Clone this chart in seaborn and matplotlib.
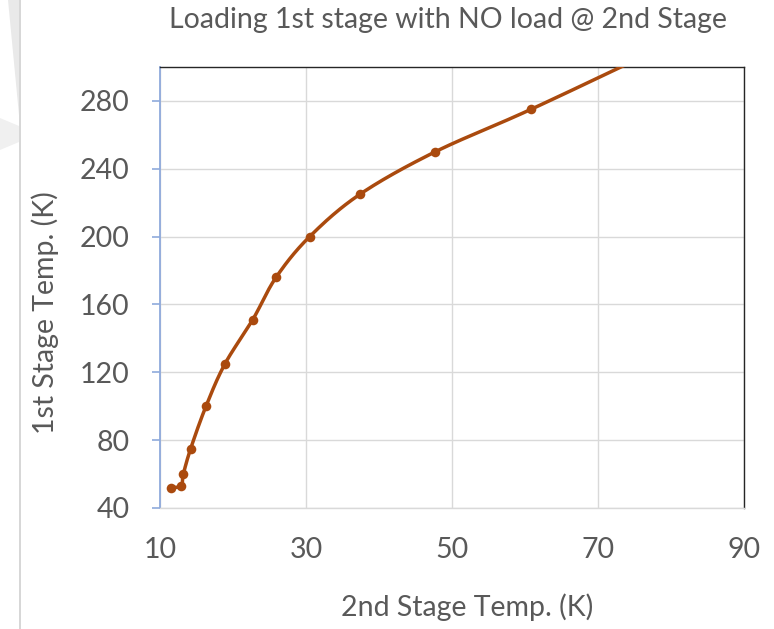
import numpy as np
import pandas as pd
import matplotlib
matplotlib.use("Agg")
import matplotlib.pyplot as plt
from matplotlib.lines import Line2D
from matplotlib.patches import Polygon
import seaborn as sns

# ---- data ----
stage2_temp = [11.5, 12.9, 13.2, 14.2, 16.3, 18.9, 22.7, 25.9, 30.5, 37.4, 47.7, 60.8, 80.0]
stage1_temp = [52, 53, 60, 75, 100, 125, 151, 176, 200, 225, 250, 275, 314]
x_ticks = [10, 30, 50, 70, 90]
y_ticks = [40, 80, 120, 160, 200, 240, 280]

title = "Loading 1st stage with NO load @ 2nd Stage"
xlabel = "2nd Stage Temp. (K)"
ylabel = "1st Stage Temp. (K)"

sns.set_theme(style="white")
plt.rcParams['font.family'] = ['Lato', 'DejaVu Sans']

line_color = "#AA4A0E"
text_color = "#595959"
fs = 20.5

df = pd.DataFrame({"x": stage2_temp, "y": stage1_temp})

# Catmull-Rom smoothing (Excel-like smoothed line) in normalized space
def smooth(xs, ys, xr, yr, n=30):
    px = (np.asarray(xs, float) - xr[0]) / (xr[1] - xr[0])
    py = (np.asarray(ys, float) - yr[0]) / (yr[1] - yr[0]) * 0.7
    P = np.column_stack([px, py])
    P = np.vstack([P[0] - (P[1] - P[0]), P, P[-1] + (P[-1] - P[-2])])
    out = []
    for i in range(1, len(P) - 2):
        p0, p1, p2, p3 = P[i - 1], P[i], P[i + 1], P[i + 2]
        t = np.linspace(0, 1, n)[:, None]
        seg = 0.5 * ((2 * p1) + (-p0 + p2) * t + (2 * p0 - 5 * p1 + 4 * p2 - p3) * t ** 2
                     + (-p0 + 3 * p1 - 3 * p2 + p3) * t ** 3)
        out.append(seg if i == len(P) - 3 else seg[:-1])
    out = np.vstack(out)
    sx = out[:, 0] * (xr[1] - xr[0]) + xr[0]
    sy = out[:, 1] / 0.7 * (yr[1] - yr[0]) + yr[0]
    return sx, sy

xr, yr = (10, 90), (40, 300)
sx, sy = smooth(stage2_temp, stage1_temp, xr, yr)
sdf = pd.DataFrame({"x": sx, "y": sy})

W, H = 774, 629
fig = plt.figure(figsize=(W / 100, H / 100), dpi=100)

def fp(px, py):
    return [px / W, 1 - py / H]

# faint slide background decorations
fig.add_artist(Polygon([fp(8, 0), fp(19, 0), fp(19, 115)], closed=True,
                       facecolor="#E9E9E9", edgecolor="none", zorder=-5))
fig.add_artist(Polygon([fp(0, 118), fp(19, 126), fp(19, 142), fp(0, 150)], closed=True,
                       facecolor="#F0F0F0", edgecolor="none", zorder=-5))
fig.add_artist(Line2D([20 / W, 20 / W], [0, 1], color="#D0D0D0", lw=1.2))

ax = fig.add_axes([160 / W, 1 - 508 / H, 584 / W, 441 / H])
sns.lineplot(data=sdf, x="x", y="y", sort=False, color=line_color, lw=2.5,
             ax=ax, estimator=None, zorder=3)
sns.scatterplot(data=df, x="x", y="y", color=line_color, s=48, edgecolor=line_color,
                linewidth=0, ax=ax, zorder=4)

ax.set_xlim(*xr)
ax.set_ylim(*yr)
ax.set_xticks(x_ticks)
ax.set_yticks(y_ticks)
ax.grid(True, color="#D9D9D9", lw=1)
ax.set_axisbelow(True)
ax.set_xlabel("")
ax.set_ylabel("")

for s in ["top", "right"]:
    ax.spines[s].set_color("#262626")
    ax.spines[s].set_linewidth(1.0)
ax.spines["left"].set_color("#8FAADC")
ax.spines["left"].set_linewidth(1.3)
ax.spines["bottom"].set_color("#D9D9D9")
ax.spines["bottom"].set_linewidth(1.0)

ax.tick_params(axis="y", which="both", left=True, length=6, width=1.2,
               color="#8FAADC", labelsize=fs, labelcolor=text_color, pad=16)
ax.tick_params(axis="x", which="both", bottom=False, length=0,
               labelsize=fs, labelcolor=text_color, pad=21)

fig.text(448 / W, 1 - 20 / H, title, ha="center", va="center",
         fontsize=fs, color=text_color)
fig.text(467 / W, 1 - 607 / H, xlabel, ha="center", va="center",
         fontsize=fs, color=text_color)
fig.text(45 / W, 1 - 313 / H, ylabel, ha="center", va="center",
         rotation=90, fontsize=fs, color=text_color)

fig.savefig("out.png", dpi=100, facecolor="white")
